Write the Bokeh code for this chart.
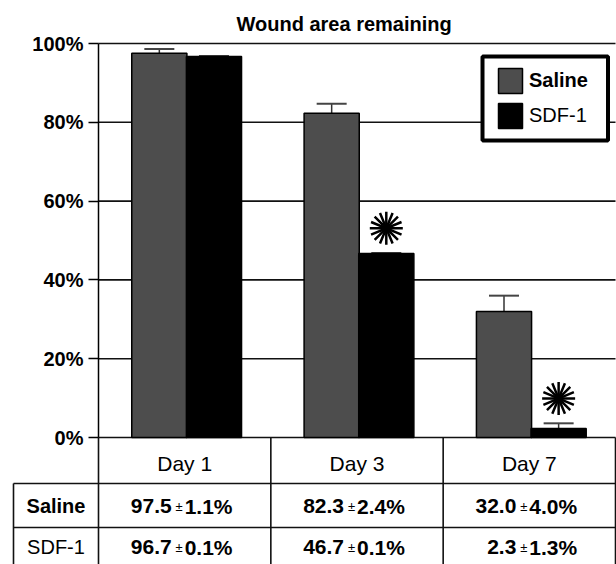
import math
from bokeh.plotting import figure
from bokeh.models import (ColumnDataSource, Range1d, FixedTicker, Whisker, TeeHead,
                          BoxAnnotation, Legend, LegendItem)
from bokeh.transform import dodge
from bokeh.core.properties import value
from bokeh.embed import file_html
from bokeh.resources import INLINE

# ---------------- data ----------------
title = "Wound area remaining"
days = ["Day 1", "Day 3", "Day 7"]
series_names = ["Saline", "SDF-1"]
saline = [97.5, 82.3, 32.0]
saline_sem = [1.1, 2.4, 4.0]
sdf1 = [96.7, 46.7, 2.3]
sdf1_sem = [0.1, 0.1, 1.3]
significant = [False, True, True]
y_ticks = [0, 20, 40, 60, 80, 100]

# ---------------- layout constants ----------------
FONT = "Liberation Sans"
W, H = 616, 564
TOP = 34                # frame top (px)
AXIS_X = 98             # axis position (px)
ZERO_Y = 437            # y of 0% (px)
PX_X = 172.33           # px per category
PX_Y = 3.94             # px per percentage point
X0 = -AXIS_X / PX_X
X1 = 3 + 1 / PX_X
Y1 = (ZERO_Y - TOP) / PX_Y
Y0 = -(H - ZERO_Y) / PX_Y
D_SAL, D_SDF, BW = -0.147, 0.17, 0.32
ROW1 = -46 / PX_Y       # table line below day row
ROW2 = -90 / PX_Y       # table line below saline row
LEFT_COL = -85 / PX_X   # left border of row-label column

n = len(days)
pos = [i + 0.5 for i in range(n)]
src = ColumnDataSource(dict(
    x=pos, day=days,
    saline=saline, saline_hi=[m + s for m, s in zip(saline, saline_sem)],
    sdf1=sdf1, sdf1_hi=[m + s for m, s in zip(sdf1, sdf1_sem)],
))

p = figure(width=W, height=H, output_backend="svg", toolbar_location=None,
           x_range=Range1d(X0, X1), y_range=Range1d(Y0, Y1),
           x_axis_location=None, min_border_left=0, min_border_right=0,
           min_border_bottom=0, min_border_top=TOP)
p.outline_line_color = None
p.grid.visible = False
p.background_fill_color = "white"

# title
p.title.text = title
p.title.text_font = FONT
p.title.text_font_size = "20px"
p.title.text_font_style = "bold"
p.title.text_color = "black"
p.title.align = "left"
p.title.offset = 236
p.title.standoff = 0

# y axis at x = 0
ax = p.yaxis[0]
ax.fixed_location = 0
ax.bounds = (0, 100)
ax.ticker = FixedTicker(ticks=y_ticks)
ax.major_label_overrides = {t: f"{t}%" for t in y_ticks}
ax.axis_line_width = 1.5
ax.axis_line_color = "black"
ax.major_tick_out = 10
ax.major_tick_in = 0
ax.major_tick_line_width = 1.5
ax.minor_tick_out = 0
ax.minor_tick_in = 0
ax.major_label_standoff = 5
ax.major_label_text_font = FONT
ax.major_label_text_font_size = "20px"
ax.major_label_text_font_style = "bold"
ax.major_label_text_color = "black"

# gridlines (from the axis to the right edge)
grid_src = ColumnDataSource(dict(y=y_ticks))
p.segment(x0=0, x1=3, y0="y", y1="y", source=grid_src, line_color="#111111", line_width=1.6)

# bars
r_sal = p.vbar(x=dodge("x", D_SAL), top="saline", bottom=0, width=BW, source=src,
               fill_color="#4d4d4d", line_color="black", line_width=1.5)
r_sdf = p.vbar(x=dodge("x", D_SDF), top="sdf1", bottom=0, width=BW, source=src,
               fill_color="black", line_color="black", line_width=1.5)

# error bars (upper only)
for base, lo, hi in [(D_SAL, "saline", "saline_hi"), (D_SDF, "sdf1", "sdf1_hi")]:
    wk = Whisker(source=src, base=dodge("x", base), lower=lo, upper=hi, dimension="height",
                 line_color="#333333", line_width=1.5, lower_head=None,
                 upper_head=TeeHead(size=30, line_width=2, line_color="#444444"))
    p.add_layout(wk)

# significance stars
star_src = ColumnDataSource(dict(
    x=[pos[i] for i in range(n) if significant[i]],
    y=[sdf1[i] + sdf1_sem[i] + 6.3 for i in range(n) if significant[i]],
))
for ang in (0, math.pi / 8):
    p.scatter(x=dodge("x", D_SDF), y="y", source=star_src, marker="asterisk", size=33,
              angle=ang, line_color="black", line_width=2.5)

# ---------------- table ----------------
hline_src = ColumnDataSource(dict(x0=[LEFT_COL, LEFT_COL], x1=[3, 3], y=[ROW1, ROW2]))
p.segment(x0="x0", x1="x1", y0="y", y1="y", source=hline_src, line_color="#111111", line_width=1.6)
vline_src = ColumnDataSource(dict(x=[0, 1, 2, 3, LEFT_COL], top=[0, 0, 0, 0, ROW1]))
p.segment(x0="x", x1="x", y0=Y0 - 1, y1="top", source=vline_src, line_color="#111111", line_width=1.6)

p.text(x="x", y=-6.6, text="day", source=src, text_font=value(FONT), text_font_size="21px",
       text_align="center", text_baseline="middle", text_color="black")

row_y = [-17.5, -27.8]
rows = ColumnDataSource(dict(
    x=[LEFT_COL / 2] * 2, y=row_y, name=series_names, style=["bold", "normal"],
))
p.text(x="x", y="y", text="name", source=rows, text_font=value(FONT), text_font_size="20px",
       text_font_style="style", text_align="center", text_baseline="middle", text_color="black")

vals = ColumnDataSource(dict(
    x=pos * 2,
    y=[row_y[0]] * n + [row_y[1]] * n,
    mean=[f"{v:.1f}" for v in saline + sdf1],
    pm=["\u00b1"] * (2 * n),
    sem=[f"{v:.1f}%" for v in saline_sem + sdf1_sem],
))
p.text(x="x", y="y", text="mean", source=vals, x_offset=-13, text_font=value(FONT),
       text_font_size="21px", text_font_style="bold", text_align="right",
       text_baseline="middle", text_color="black")
p.text(x="x", y="y", text="pm", source=vals, x_offset=-5.5, text_font=value(FONT),
       text_font_size="13px", text_align="center", text_baseline="middle", text_color="black")
p.text(x="x", y="y", text="sem", source=vals, x_offset=0, text_font=value(FONT),
       text_font_size="21px", text_font_style="bold", text_align="left",
       text_baseline="middle", text_color="black")

# ---------------- legend ----------------
box = BoxAnnotation(left=(482 - AXIS_X) / PX_X, right=(607.5 - AXIS_X) / PX_X,
                    top=(ZERO_Y - 56) / PX_Y, bottom=(ZERO_Y - 140) / PX_Y,
                    fill_color="white", fill_alpha=1.0, line_color="black",
                    line_alpha=1.0, line_width=4)
p.add_layout(box)

for label, rend, style, loc in [("Saline", r_sal, "bold", (495, H - 96)),
                                ("SDF-1", r_sdf, "normal", (495, H - 131))]:
    leg = Legend(items=[LegendItem(label=label, renderers=[rend])], location=loc,
                 padding=0, margin=0, spacing=0, glyph_width=30, glyph_height=31,
                 label_standoff=4, label_text_font=FONT, label_text_font_size="20px",
                 label_text_font_style=style, label_text_color="black",
                 border_line_color=None, background_fill_alpha=0)
    p.add_layout(leg, "center")

open("out.html", "w").write(file_html(p, INLINE))
